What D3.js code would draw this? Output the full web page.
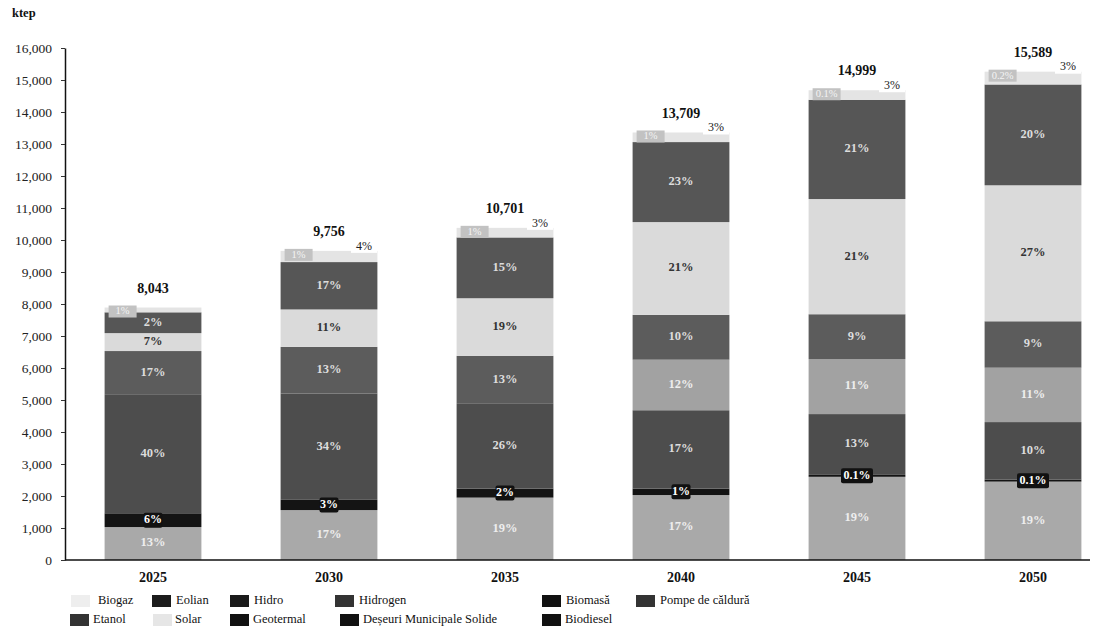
<!DOCTYPE html>
<html><head><meta charset="utf-8">
<script src="https://cdn.jsdelivr.net/npm/d3@7/dist/d3.min.js"></script>
<style>
html,body{margin:0;padding:0;background:#fff;}
svg{display:block;font-family:"Liberation Serif","DejaVu Serif",serif;}
</style></head>
<body><svg id="c" width="1102" height="633"></svg>
<script>
// ---------- data (ktep) ----------
const years = ["2025","2030","2035","2040","2045","2050"];
const totalLabels = ["8,043","9,756","10,701","13,709","14,999","15,589"];
const yTicks = [0,1000,2000,3000,4000,5000,6000,7000,8000,9000,10000,11000,12000,13000,14000,15000,16000];

const hidro      = [1030, 1560, 1950, 2030, 2600, 2450];
const biodiesel  = [ 430,  320,  280,  200,   60,   60];
const biomasa    = [3700, 3320, 2650, 2450, 1900, 1800];
const eolian     = [   0,    0,    0, 1580, 1720, 1700];
const geotermal  = [1370, 1460, 1500, 1400, 1400, 1450];
const solar      = [ 560, 1170, 1800, 2900, 3600, 4250];
const pompe      = [ 650, 1480, 1900, 2500, 3100, 3150];
const biogaz     = [ 150,  350,  300,  300,  300,  400];

const hidroLbl     = ["13%","17%","19%","17%","19%","19%"];
const biodieselLbl = ["6%","3%","2%","1%","0.1%","0.1%"];
const biomasaLbl   = ["40%","34%","26%","17%","13%","10%"];
const eolianLbl    = ["","","","12%","11%","11%"];
const geotermalLbl = ["17%","13%","13%","10%","9%","9%"];
const solarLbl     = ["7%","11%","19%","21%","21%","27%"];
const pompeLbl     = ["2%","17%","15%","23%","21%","20%"];
const biogazLbl    = ["","4%","3%","3%","3%","3%"];
const topBoxLbl    = ["1%","1%","1%","1%","0.1%","0.2%"];

const legendRow1 = ["Biogaz","Eolian","Hidro","Hidrogen","Biomasă","Pompe de căldură"];
const legendRow2 = ["Etanol","Solar","Geotermal","Deșeuri Municipale Solide","Biodiesel"];

// ---------- build ----------
const series = [
  {name:"Hidro", v:hidro, lbl:hidroLbl, fill:"#a9a9a9", tc:"#eeeeee"},
  {name:"Biodiesel", v:biodiesel, lbl:biodieselLbl, fill:"#141414", tc:"#ffffff", box:true},
  {name:"Biomasă", v:biomasa, lbl:biomasaLbl, fill:"#4d4d4d", tc:"#dddddd"},
  {name:"Eolian", v:eolian, lbl:eolianLbl, fill:"#a2a2a2", tc:"#eeeeee"},
  {name:"Geotermal", v:geotermal, lbl:geotermalLbl, fill:"#5c5c5c", tc:"#dddddd"},
  {name:"Solar", v:solar, lbl:solarLbl, fill:"#dadada", tc:"#333333"},
  {name:"Pompe de căldură", v:pompe, lbl:pompeLbl, fill:"#565656", tc:"#dddddd"},
  {name:"Biogaz", v:biogaz, lbl:biogazLbl, fill:"#e4e4e4", tc:"#222222", outside:true}
];

const table = years.map((yr,i)=>{ const o={year:yr}; series.forEach(s=>o[s.name]=s.v[i]); return o;});
const stack = d3.stack().keys(series.map(s=>s.name))(table);

const svg = d3.select("#c");
const y = d3.scaleLinear().domain([0,16000]).range([560,48]);
const x = d3.scaleBand().domain(years).range([65,1121]).paddingInner(0.45).paddingOuter(0.225);

// bars
const g = svg.append("g");
stack.forEach((layer,si)=>{
  const s = series[si];
  g.selectAll(null).data(layer).enter().append("rect")
    .attr("x",d=>x(d.data.year)).attr("width",x.bandwidth())
    .attr("y",d=>y(d[1])).attr("height",d=>Math.max(0,y(d[0])-y(d[1])))
    .attr("fill",s.fill);
});

// segment labels
stack.forEach((layer,si)=>{
  const s = series[si];
  layer.forEach((d,i)=>{
    const t = s.lbl[i]; if(!t) return;
    const cx = x(d.data.year)+x.bandwidth()/2;
    if(s.outside){
      const ty = y(d[1]);
      svg.append("rect").attr("x",cx+22).attr("y",ty-11).attr("width",26).attr("height",13).attr("fill","#ffffff");
      svg.append("text").attr("x",cx+35).attr("y",ty-4).attr("text-anchor","middle").attr("dominant-baseline","middle")
        .attr("font-size",12).attr("fill","#222").text(t);
      return;
    }
    const cy = (y(d[0])+y(d[1]))/2;
    if(s.box){
      const w = t.length*6.5+6;
      svg.append("rect").attr("x",cx-w/2).attr("y",cy-7.5).attr("width",w).attr("height",15).attr("fill","#111").attr("rx",2);
      svg.append("text").attr("x",cx).attr("y",cy+0.5).attr("text-anchor","middle").attr("dominant-baseline","middle")
        .attr("font-size",12).attr("font-weight","bold").attr("fill","#ffffff").text(t);
      return;
    }
    svg.append("text").attr("x",cx).attr("y",cy).attr("text-anchor","middle").attr("dominant-baseline","middle")
      .attr("font-size",12.5).attr("font-weight","bold").attr("fill",s.tc).text(t);
  });
});

// small top-left boxes
const topLayer = stack[stack.length-1];
topLayer.forEach((d,i)=>{
  const bx = x(d.data.year)+4, by = y(d[1])-2;
  svg.append("rect").attr("x",bx).attr("y",by).attr("width",28).attr("height",12).attr("fill","#c2c2c2");
  svg.append("text").attr("x",bx+14).attr("y",by+6.5).attr("text-anchor","middle").attr("dominant-baseline","middle")
    .attr("font-size",10.5).attr("fill","#f4f4f4").text(topBoxLbl[i]);
});

// totals
topLayer.forEach((d,i)=>{
  svg.append("text").attr("x",x(d.data.year)+x.bandwidth()/2).attr("y",y(d[1])-18)
    .attr("text-anchor","middle").attr("dominant-baseline","middle")
    .attr("font-size",14).attr("font-weight","bold").attr("fill","#111").text(totalLabels[i]);
});

// y axis
const ya = svg.append("g").attr("transform","translate(65,0)")
  .call(d3.axisLeft(y).tickValues(yTicks).tickFormat(d3.format(",")).tickSize(4).tickSizeOuter(0).tickPadding(9));
ya.select(".domain").attr("stroke","#111").attr("stroke-width",1.5);
ya.selectAll(".tick line").attr("stroke","#333");
ya.selectAll("text").attr("font-family","Liberation Serif").attr("font-size",13.5).attr("fill","#222");

// x axis
svg.append("line").attr("x1",65).attr("x2",1090).attr("y1",y(0)).attr("y2",y(0)).attr("stroke","#111").attr("stroke-width",1.5);
svg.append("g").selectAll("text").data(years).enter().append("text")
  .attr("x",d=>x(d)+x.bandwidth()/2).attr("y",579).attr("text-anchor","middle").attr("dominant-baseline","middle")
  .attr("font-size",14).attr("font-weight","bold").attr("fill","#111").text(d=>d);

// unit
svg.append("text").attr("x",12).attr("y",17).attr("font-size",12.5).attr("font-weight","bold").attr("fill","#111").text("ktep");

// legend
const sw1 = ["#eeeeee","#1c1c1c","#1a1a1a","#333333","#111111","#333333"];
const sw2 = ["#333333","#e6e6e6","#111111","#111111","#111111"];
const lx1 = [71,152,230,335,542,636];
const lx2 = [70,153,230,340,542];
const lg = svg.append("g").attr("font-size",12.5).attr("fill","#111");
legendRow1.forEach((n,i)=>{
  lg.append("rect").attr("x",lx1[i]).attr("y",595).attr("width",19).attr("height",12).attr("fill",sw1[i]);
  lg.append("text").attr("x",lx1[i]+(i===0?27:24)).attr("y",601).attr("dominant-baseline","middle").text(n);
});
legendRow2.forEach((n,i)=>{
  lg.append("rect").attr("x",lx2[i]).attr("y",614).attr("width",19).attr("height",12).attr("fill",sw2[i]);
  lg.append("text").attr("x",lx2[i]+(i===1?22:23)).attr("y",620).attr("dominant-baseline","middle").text(n);
});
</script></body></html>
